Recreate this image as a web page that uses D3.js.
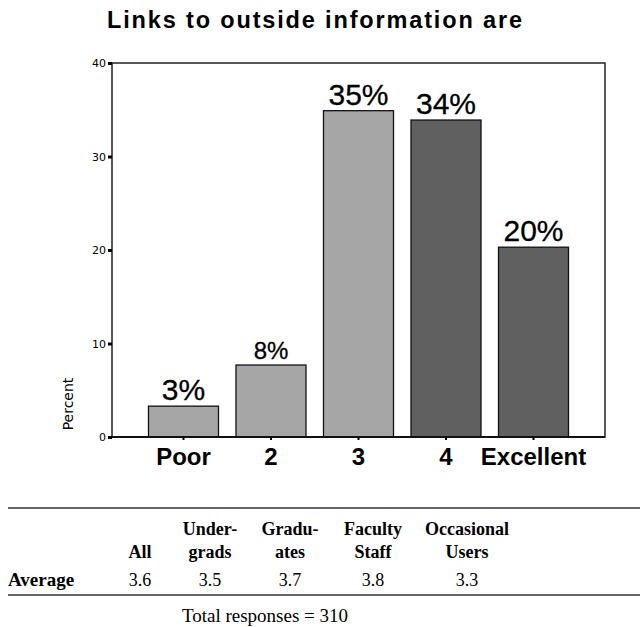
<!DOCTYPE html>
<html><head><meta charset="utf-8">
<script src="https://cdn.jsdelivr.net/npm/d3@7"></script>
<style>body{margin:0;background:#fff}svg{display:block}</style>
</head><body>
<svg id="c" width="640" height="627"></svg>
<script>
const categories = ["Poor", "2", "3", "4", "Excellent"];
const percents = [3.3, 7.7, 34.9, 33.9, 20.3];
const valueLabels = ["3%", "8%", "35%", "34%", "20%"];
const barColors = ["#a6a6a6", "#a6a6a6", "#a6a6a6", "#606060", "#606060"];
const yTicks = [0, 10, 20, 30, 40];
const groupsTop = ["", "Under-", "Gradu-", "Faculty", "Occasional"];
const groupsBottom = ["All", "grads", "ates", "Staff", "Users"];
const averages = ["3.6", "3.5", "3.7", "3.8", "3.3"];
const groupX = [140, 210, 290, 373, 467];
const title = "Links to outside information are";
const footer = "Total responses = 310";

const svg = d3.select("#c");
const L = 112, R = 605, T = 63, B = 437;
const x = d3.scaleBand().domain(categories).range([L, R]).paddingInner(0.2).paddingOuter(0.417);
const y = d3.scaleLinear().domain([0, 40]).range([B, T]);
const sans = "Liberation Sans, Arial, sans-serif";

svg.append("text").attr("x", 314.5).attr("y", 28).attr("text-anchor", "middle")
  .attr("font-family", sans).attr("font-weight", "bold")
  .attr("font-size", 23.5).attr("textLength", 415).attr("lengthAdjust", "spacing").text(title);

// frame
svg.append("rect").attr("x", L).attr("y", T).attr("width", R - L).attr("height", B - T)
  .attr("fill", "none").attr("stroke", "#222").attr("stroke-width", 1.5);

// bars
svg.selectAll(".bar").data(categories).enter().append("rect")
  .attr("x", d => x(d)).attr("y", (d, i) => y(percents[i]))
  .attr("width", x.bandwidth()).attr("height", (d, i) => B - y(percents[i]))
  .attr("fill", (d, i) => barColors[i]).attr("stroke", "#111").attr("stroke-width", 1.3);

// baseline
svg.append("line").attr("x1", L).attr("x2", R).attr("y1", B).attr("y2", B)
  .attr("stroke", "#111").attr("stroke-width", 2);

// value labels
svg.selectAll(".vl").data(categories).enter().append("text")
  .attr("x", d => x(d) + x.bandwidth() / 2).attr("y", (d, i) => y(percents[i]) - 6)
  .attr("text-anchor", "middle").attr("font-family", sans)
  .attr("font-size", (d, i) => valueLabels[i].length === 2 && percents[i] > 5 ? 24 : 30)
  .attr("fill", "#000").attr("stroke", "#000").attr("stroke-width", 0.3)
  .text((d, i) => valueLabels[i]);

// y axis
const yAxis = d3.axisLeft(y).tickValues(yTicks).tickSize(4).tickFormat(d3.format("d"));
const ga = svg.append("g").attr("transform", `translate(${L},0)`).call(yAxis);
ga.select(".domain").remove();
ga.selectAll(".tick line").attr("stroke", "#000").attr("stroke-width", 3);
ga.selectAll(".tick text").attr("font-family", "DejaVu Sans, sans-serif").attr("font-size", 11)
  .attr("fill", "#000").attr("x", -6);

svg.append("text").attr("transform", "translate(73,404) rotate(-90)").attr("text-anchor", "middle")
  .attr("font-family", "DejaVu Sans, sans-serif").attr("font-size", 14).text("Percent");

// x labels
const xAxis = d3.axisBottom(x).tickSize(3).tickPadding(9);
const gx = svg.append("g").attr("transform", `translate(0,${B})`).call(xAxis);
gx.select(".domain").remove();
gx.selectAll(".tick line").attr("stroke", "#000").attr("stroke-width", 2);
gx.selectAll(".tick text").attr("font-family", sans).attr("dy", null).attr("y", 28)
  .attr("font-weight", "bold").attr("font-size", 24).attr("fill", "#000");

// table
const serif = "Liberation Serif, Times New Roman, serif";
svg.append("line").attr("x1", 8).attr("x2", 640).attr("y1", 508).attr("y2", 508).attr("stroke", "#333").attr("stroke-width", 1.5);
svg.append("line").attr("x1", 8).attr("x2", 640).attr("y1", 595).attr("y2", 595).attr("stroke", "#333").attr("stroke-width", 1.5);
svg.selectAll(".h1").data(groupsTop).enter().append("text").attr("x", (d, i) => groupX[i]).attr("y", 535)
  .attr("text-anchor", "middle").attr("font-family", serif).attr("font-weight", "bold").attr("font-size", 18).text(d => d);
svg.selectAll(".h2").data(groupsBottom).enter().append("text").attr("x", (d, i) => groupX[i]).attr("y", 558)
  .attr("text-anchor", "middle").attr("font-family", serif).attr("font-weight", "bold").attr("font-size", 18).text(d => d);
svg.append("text").attr("x", 8).attr("y", 586).attr("font-family", serif).attr("font-weight", "bold").attr("font-size", 19).text("Average");
svg.selectAll(".av").data(averages).enter().append("text").attr("x", (d, i) => groupX[i]).attr("y", 586)
  .attr("text-anchor", "middle").attr("font-family", serif).attr("font-size", 18).text(d => d);
svg.append("text").attr("x", 265).attr("y", 622).attr("text-anchor", "middle").attr("font-family", serif).attr("font-size", 19).text(footer);
</script>
</body></html>
